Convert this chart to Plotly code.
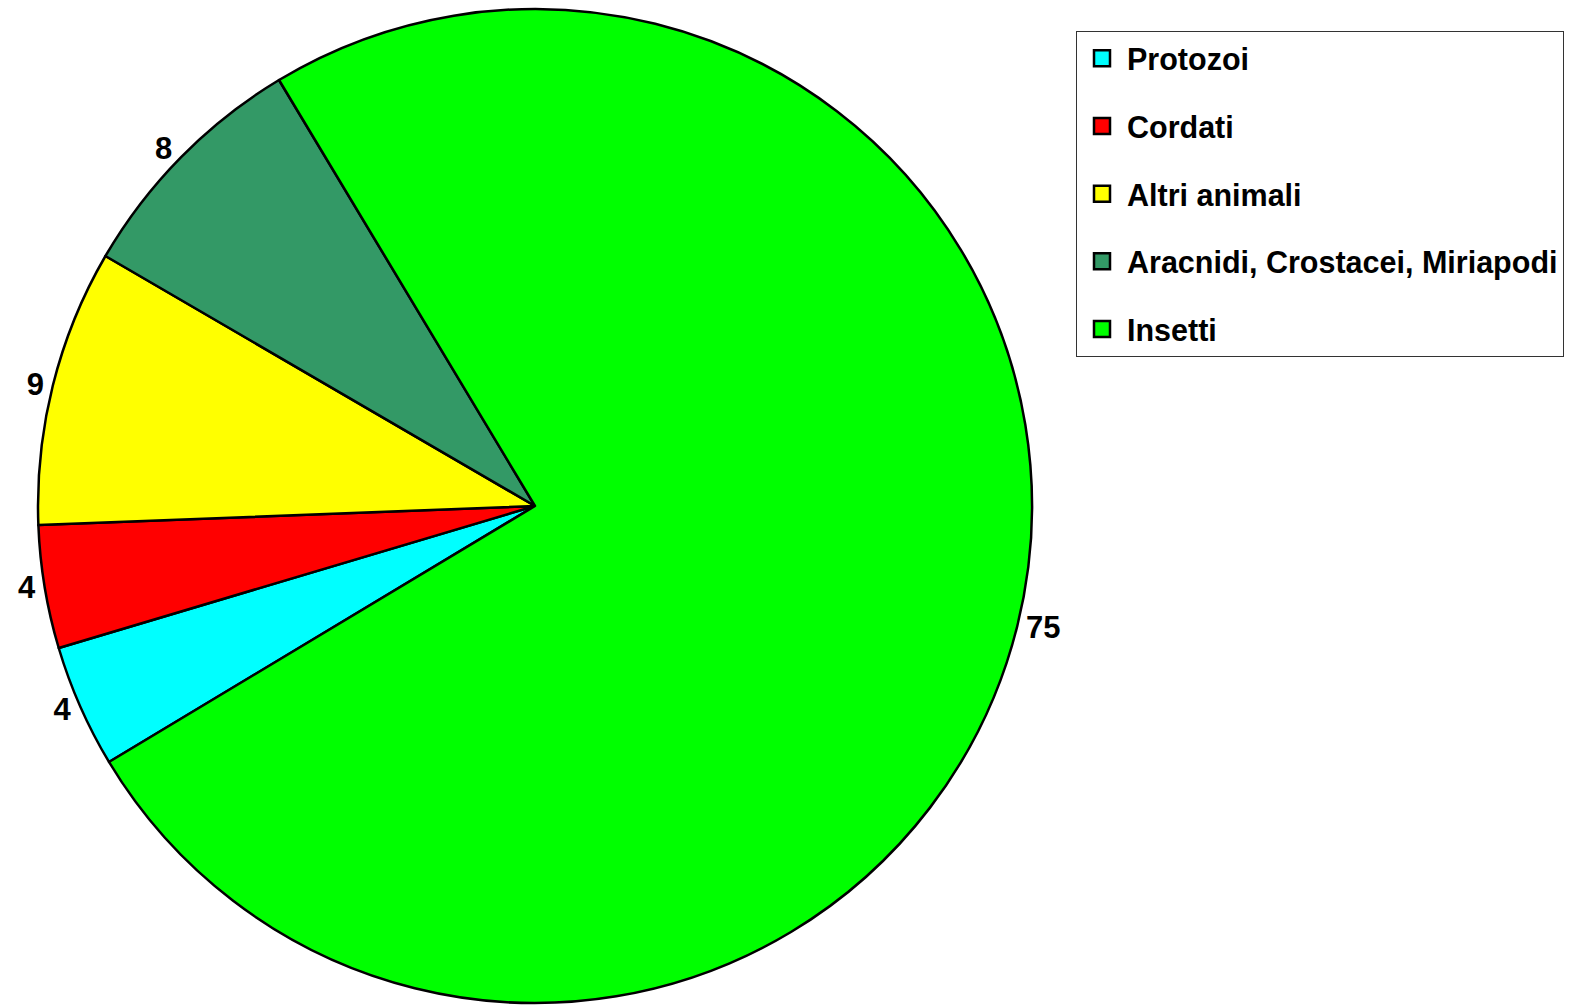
import plotly.graph_objects as go

categories = ["Protozoi", "Cordati", "Altri animali", "Aracnidi, Crostacei, Miriapodi", "Insetti"]
values = [4, 4, 9, 8, 75]
colors = ["#00FFFF", "#FF0000", "#FFFF00", "#339966", "#00FF00"]

W, H = 1591, 1006
cx, cy, r = 535, 506, 497  # pie centre / radius in pixels

FONT = "Liberation Sans, Arial, sans-serif"

fig = go.Figure()
fig.add_trace(go.Pie(
    labels=categories, values=values, sort=False, direction="clockwise", rotation=239,
    marker=dict(colors=colors, line=dict(color="black", width=2.5)),
    textinfo="value", texttemplate="%{value}", textposition="outside",
    outsidetextfont=dict(family=FONT, size=31, color="black", weight="bold"),
    domain=dict(x=[(cx - r) / W, (cx + r) / W], y=[(H - cy - r) / H, (H - cy + r) / H]),
    showlegend=False, hoverinfo="label+value",
))

for c, col in zip(categories, colors):
    fig.add_trace(go.Scatter(
        x=[None], y=[None], mode="markers", name=c, legendgroup=c, showlegend=True,
        marker=dict(symbol="square", size=16, color=col, line=dict(color="black", width=2.5)),
        hoverinfo="skip",
    ))

fig.update_layout(
    width=W, height=H,
    margin=dict(l=0, r=0, t=0, b=0, pad=0, autoexpand=False),
    paper_bgcolor="white", plot_bgcolor="white",
    xaxis=dict(visible=False), yaxis=dict(visible=False),
    legend=dict(
        x=1076 / W, y=(H - 31) / H, xanchor="left", yanchor="top",
        bordercolor="#333333", borderwidth=1, bgcolor="white",
        font=dict(family=FONT, size=30.5, color="black", weight="bold"),
        itemwidth=40, tracegroupgap=25, traceorder="grouped",
    ),
)

fig.write_html("out.html", config={"displayModeBar": False},
               post_script="document.body.style.margin='0';")
